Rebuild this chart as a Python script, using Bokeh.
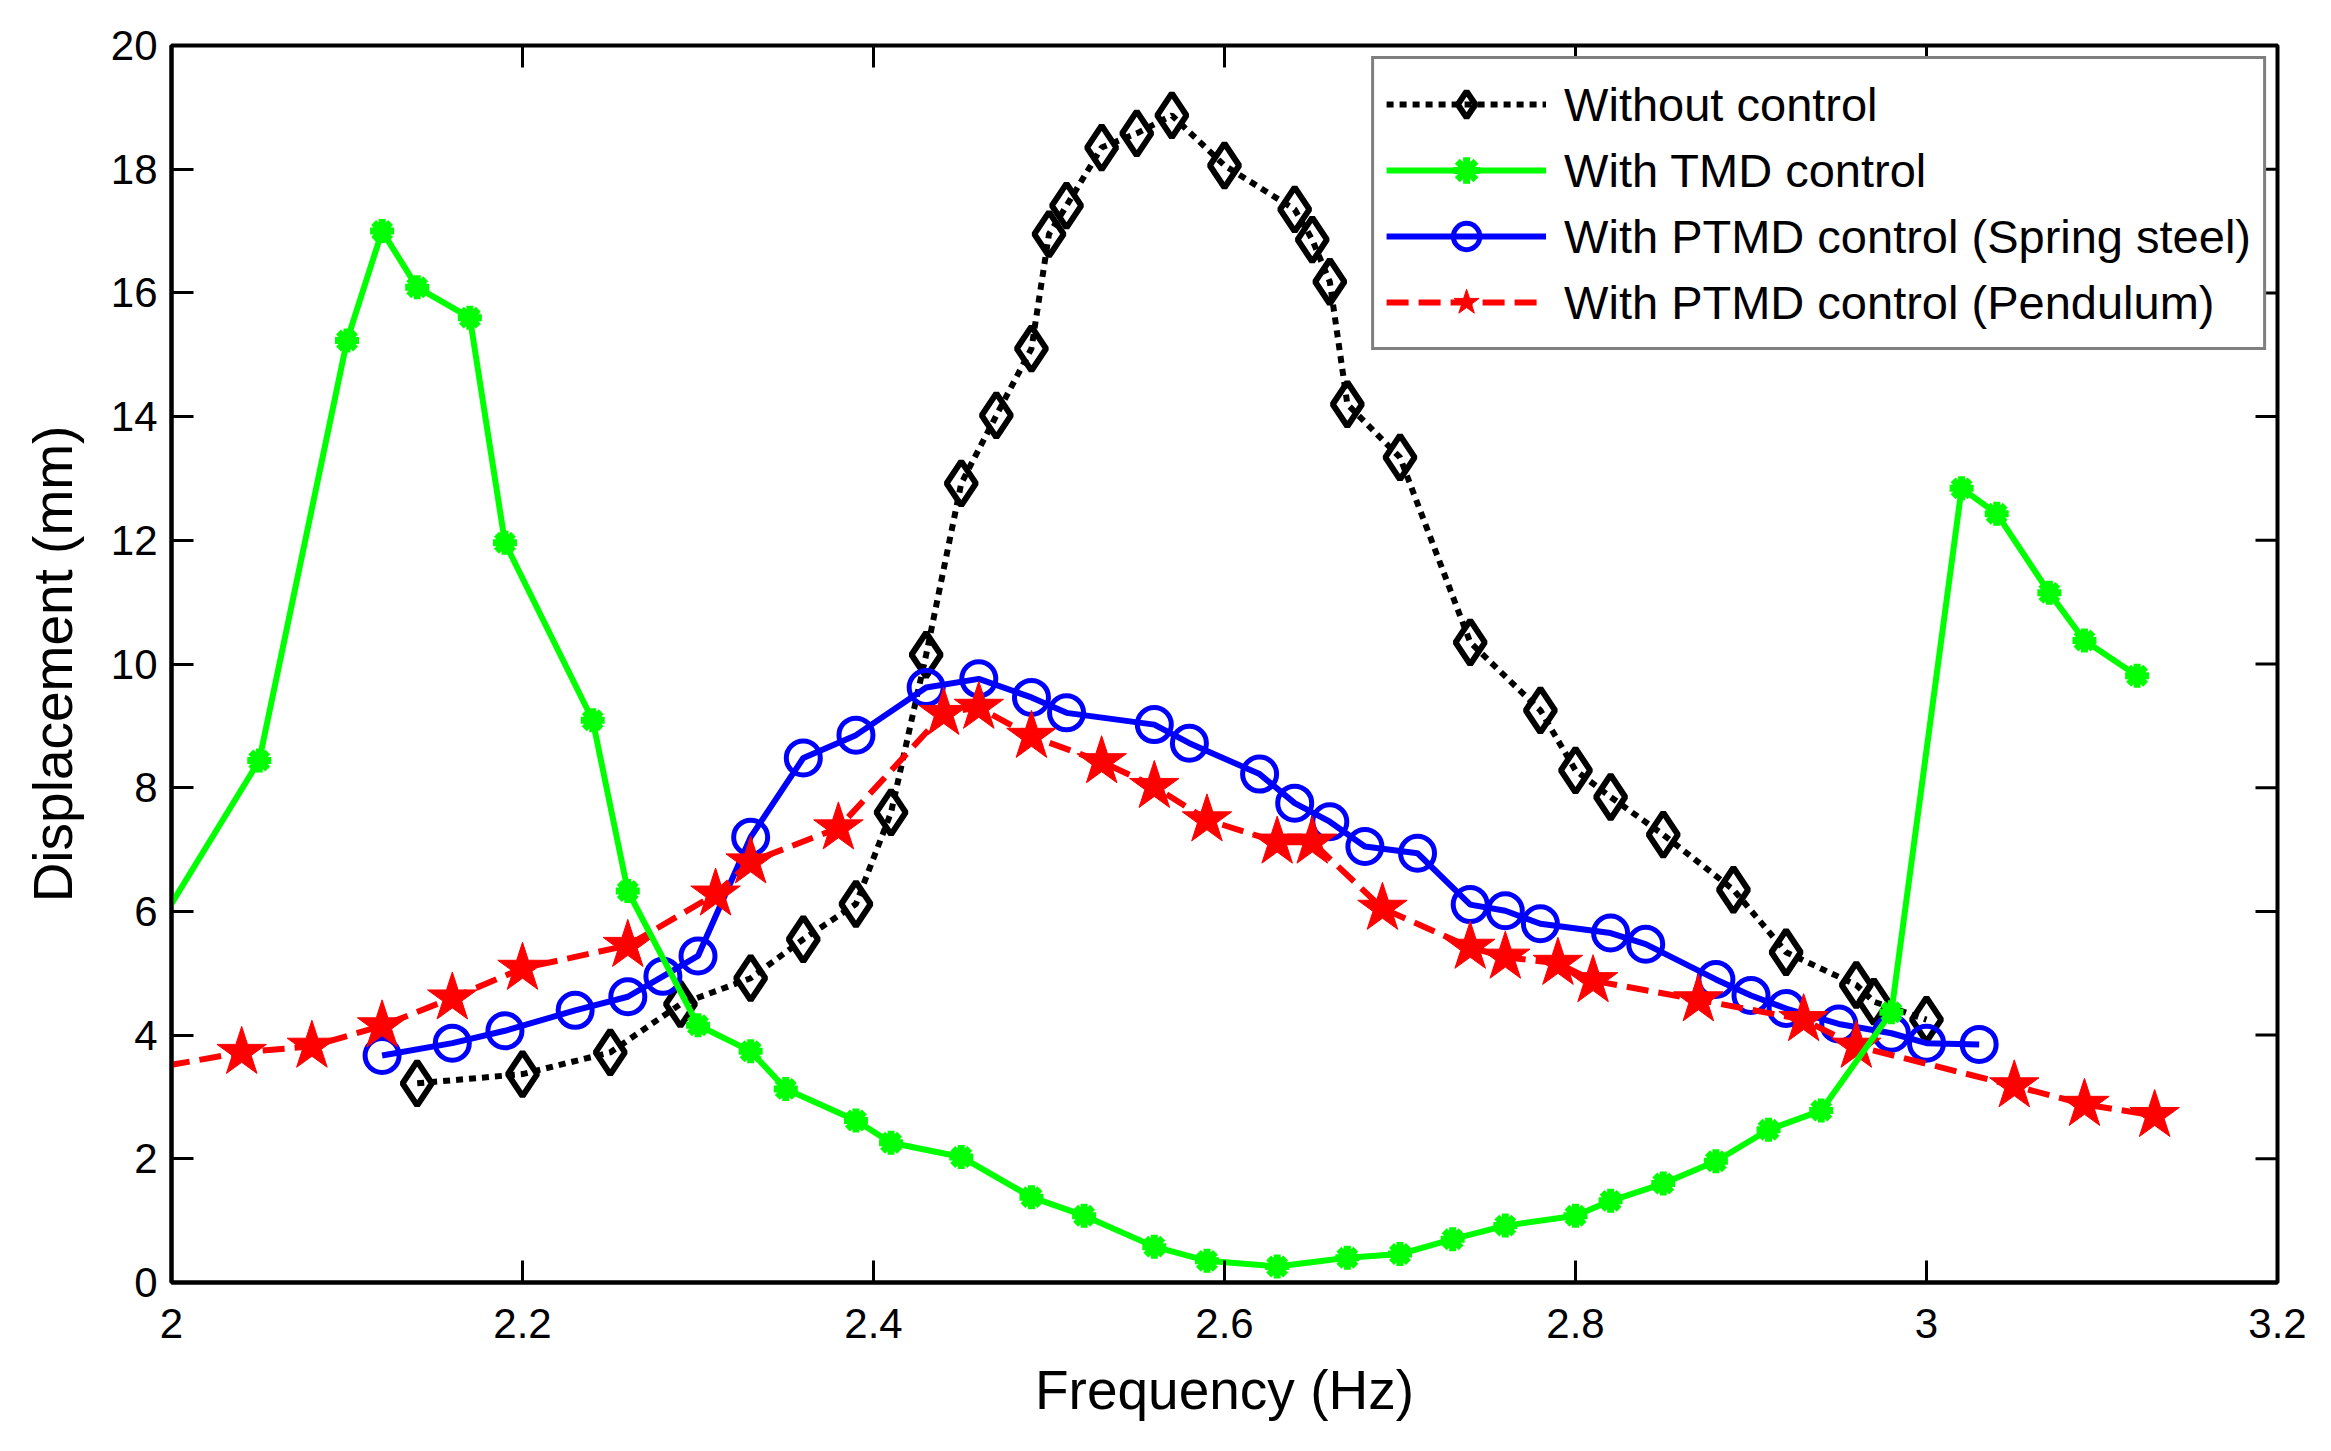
import math
from bokeh.plotting import figure
from bokeh.models import FixedTicker, Legend, LegendItem, Range1d
from bokeh.embed import file_html
from bokeh.resources import INLINE

# ---------------- data ----------------
x_none = [2.14, 2.20, 2.25, 2.29, 2.33, 2.36, 2.39, 2.41, 2.43, 2.45, 2.47, 2.49, 2.50, 2.51,
          2.53, 2.55, 2.57, 2.60, 2.64, 2.65, 2.66, 2.67, 2.70, 2.74, 2.78, 2.80, 2.82, 2.85,
          2.89, 2.92, 2.96, 2.97, 3.00]
y_none = [3.22, 3.37, 3.72, 4.50, 4.92, 5.55, 6.12, 7.60, 10.15, 12.92, 14.02, 15.10, 16.95, 17.41,
          18.35, 18.58, 18.87, 18.06, 17.35, 16.86, 16.18, 14.20, 13.34, 10.35, 9.25, 8.28, 7.85, 7.24,
          6.35, 5.34, 4.81, 4.54, 4.25]

x_tmd = [1.98, 2.05, 2.10, 2.12, 2.14, 2.17, 2.19, 2.24, 2.26, 2.30, 2.33, 2.35, 2.39, 2.41,
         2.45, 2.49, 2.52, 2.56, 2.59, 2.63, 2.67, 2.70, 2.73, 2.76, 2.80, 2.82, 2.85, 2.88,
         2.91, 2.94, 2.98, 3.02, 3.04, 3.07, 3.09, 3.12]
y_tmd = [5.20, 8.44, 15.23, 17.00, 16.09, 15.60, 11.96, 9.09, 6.33, 4.16, 3.74, 3.13, 2.62, 2.26,
         2.03, 1.38, 1.08, 0.58, 0.35, 0.26, 0.40, 0.46, 0.70, 0.92, 1.08, 1.32, 1.60, 1.96,
         2.47, 2.78, 4.37, 12.84, 12.43, 11.15, 10.38, 9.81]

x_spring = [2.12, 2.16, 2.19, 2.23, 2.26, 2.28, 2.30, 2.33, 2.36, 2.39, 2.43, 2.46, 2.49, 2.51,
            2.56, 2.58, 2.62, 2.64, 2.66, 2.68, 2.71, 2.74, 2.76, 2.78, 2.82, 2.84, 2.88, 2.90,
            2.92, 2.95, 2.98, 3.00, 3.03]
y_spring = [3.67, 3.87, 4.07, 4.40, 4.62, 4.95, 5.28, 7.20, 8.48, 8.85, 9.62, 9.76, 9.46, 9.21,
            9.02, 8.72, 8.22, 7.75, 7.45, 7.05, 6.94, 6.11, 6.01, 5.80, 5.65, 5.47, 4.90, 4.64,
            4.43, 4.18, 4.03, 3.87, 3.85]

x_pend = [1.98, 2.04, 2.08, 2.12, 2.16, 2.20, 2.26, 2.31, 2.33, 2.38, 2.44, 2.46, 2.49, 2.53,
          2.56, 2.59, 2.63, 2.65, 2.69, 2.74, 2.76, 2.79, 2.81, 2.87, 2.93, 2.96, 3.05, 3.09, 3.13]
y_pend = [3.42, 3.72, 3.82, 4.15, 4.60, 5.08, 5.45, 6.28, 6.80, 7.35, 9.20, 9.30, 8.83, 8.42,
          8.02, 7.48, 7.12, 7.12, 6.05, 5.42, 5.26, 5.16, 4.88, 4.57, 4.25, 3.82, 3.18, 2.88, 2.70]

series_names = ["Without control", "With TMD control",
                "With PTMD control (Spring steel)", "With PTMD control (Pendulum)"]

x_ticks = [2.0, 2.2, 2.4, 2.6, 2.8, 3.0, 3.2]
x_tick_labels = ["2", "2.2", "2.4", "2.6", "2.8", "3", "3.2"]
y_ticks = [0, 2, 4, 6, 8, 10, 12, 14, 16, 18, 20]
y_tick_labels = ["0", "2", "4", "6", "8", "10", "12", "14", "16", "18", "20"]

FONT = "Liberation Sans"

p = figure(frame_width=2106, frame_height=1237,
           x_range=Range1d(x_ticks[0], x_ticks[-1]), y_range=Range1d(y_ticks[0], y_ticks[-1]),
           output_backend="svg", toolbar_location=None,
           min_border_left=171, min_border_top=45, min_border_bottom=140, min_border_right=30)
p.background_fill_color = "white"
p.border_fill_color = "white"
p.xgrid.visible = False
p.ygrid.visible = False
p.outline_line_color = "black"
p.outline_line_width = 4

for ax in p.xaxis:
    ax.ticker = FixedTicker(ticks=x_ticks)
    ax.major_label_overrides = {t: l for t, l in zip(x_ticks, x_tick_labels)}
    ax.axis_label = "Frequency (Hz)"
    ax.major_label_standoff = 26
    ax.axis_label_standoff = 18
for ax in p.yaxis:
    ax.ticker = FixedTicker(ticks=y_ticks)
    ax.major_label_overrides = {t: l for t, l in zip(y_ticks, y_tick_labels)}
    ax.axis_label = "Displacement (mm)"
    ax.major_label_standoff = 14
    ax.axis_label_standoff = 24

for ax in list(p.xaxis) + list(p.yaxis):
    ax.axis_line_width = 4
    ax.axis_line_color = "black"
    ax.major_tick_in = 22
    ax.major_tick_out = 0
    ax.major_tick_line_width = 3
    ax.minor_tick_line_color = None
    ax.major_label_text_font = FONT
    ax.major_label_text_font_size = "42px"
    ax.major_label_text_color = "black"
    ax.axis_label_text_font = FONT
    ax.axis_label_text_font_size = "55px"
    ax.axis_label_text_font_style = "normal"
    ax.axis_label_text_color = "black"

# mirrored ticks on the top and right frame edges (drawn as short screen-length rays)
p.ray(x=x_ticks, y=[y_ticks[-1]] * len(x_ticks), length=22, length_units="screen",
      angle=-math.pi / 2, line_color="black", line_width=3)
p.ray(x=[x_ticks[-1]] * len(y_ticks), y=y_ticks, length=22, length_units="screen",
      angle=math.pi, line_color="black", line_width=3)

# ---------------- series ----------------
l0 = p.line(x_none, y_none, line_color="black", line_width=6, line_dash="7 6", line_cap="butt")
m0 = p.scatter(x_none, y_none, marker="diamond", size=44, line_color="black", line_width=6,
               fill_alpha=0)

l2 = p.line(x_spring, y_spring, line_color="#0000ff", line_width=6)
m2 = p.scatter(x_spring, y_spring, marker="circle", size=34, line_color="#0000ff", line_width=5,
               fill_alpha=0)

l3 = p.line(x_pend, y_pend, line_color="#ff0000", line_width=6, line_dash="22 10")
m3 = p.scatter(x_pend, y_pend, marker="star", size=52, line_color="#ff0000", line_width=1,
               fill_color="#ff0000")

l1 = p.line(x_tmd, y_tmd, line_color="#00ff00", line_width=6)
m1 = p.scatter(x_tmd, y_tmd, marker="asterisk", size=24, line_color="#00ff00", line_width=7)

legend = Legend(items=[
    LegendItem(label=series_names[0], renderers=[l0, m0]),
    LegendItem(label=series_names[1], renderers=[l1, m1]),
    LegendItem(label=series_names[2], renderers=[l2, m2]),
    LegendItem(label=series_names[3], renderers=[l3, m3]),
], location="top_right")
legend.label_text_font = FONT
legend.label_text_font_size = "47px"
legend.label_text_color = "black"
legend.glyph_width = 160
legend.glyph_height = 66
legend.label_standoff = 18
legend.spacing = 0
legend.padding = 12
legend.margin = 11
legend.border_line_color = "black"
legend.border_line_width = 3
legend.background_fill_alpha = 1
p.add_layout(legend, "center")

open("out.html", "w").write(file_html(p, INLINE))
